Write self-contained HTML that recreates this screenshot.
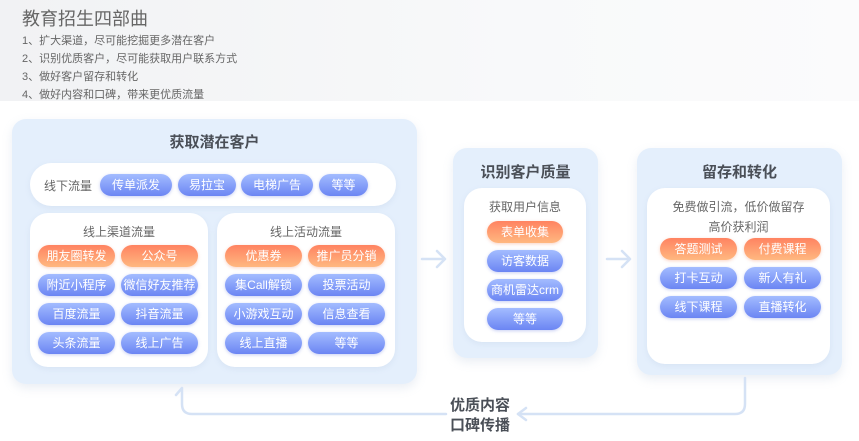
<!DOCTYPE html>
<html><head><meta charset="utf-8"><style>
*{margin:0;padding:0;box-sizing:border-box}
body{width:859px;height:441px;position:relative;overflow:hidden;background:#fff;font-family:"Liberation Sans","Noto Sans CJK SC",sans-serif;color:#555}
.a{position:absolute}
.bg{left:0;top:0;width:859px;height:101px;background:linear-gradient(90deg,#f1f2f4,#f8f9fa 60%,#fbfbfc)}
.big{background:#e4effc;border-radius:14px;box-shadow:0 4px 10px rgba(150,170,200,.2)}
.wh{background:#fff;border-radius:18px;box-shadow:0 2px 6px rgba(150,170,200,.15)}
.t{font-size:15px;font-weight:bold;color:#4a4f57;text-align:center}
.s{font-size:12px;color:#666;text-align:center}
.p{position:absolute;height:22px;border-radius:11px;color:#fff;font-size:12px;line-height:22px;text-align:center;background:linear-gradient(#a3bcff,#6b85f3);box-shadow:0 1px 3px rgba(100,120,220,.35)}
.o{background:linear-gradient(#ff8361,#ffb880);box-shadow:0 1px 3px rgba(240,130,90,.35)}
.l{font-size:11px;color:#666;left:22px}
</style></head><body>
<div class="a bg"></div>
<div class="a" style="left:22px;top:5px;font-size:18px;color:#666">教育招生四部曲</div>
<div class="a l" style="top:32px">1、扩大渠道，尽可能挖掘更多潜在客户</div>
<div class="a l" style="top:50px">2、识别优质客户，尽可能获取用户联系方式</div>
<div class="a l" style="top:68px">3、做好客户留存和转化</div>
<div class="a l" style="top:86px">4、做好内容和口碑，带来更优质流量</div>

<div class="a big" style="left:12px;top:119px;width:405px;height:265px"></div>
<div class="a t" style="left:12px;top:131px;width:405px">获取潜在客户</div>
<div class="a wh" style="left:30px;top:163px;width:366px;height:43px;border-radius:22px"></div>
<div class="a" style="left:44px;top:177px;font-size:12px;color:#666">线下流量</div>
<div class="p" style="left:100px;top:174px;width:72px">传单派发</div>
<div class="p" style="left:178px;top:174px;width:58px">易拉宝</div>
<div class="p" style="left:241px;top:174px;width:72px">电梯广告</div>
<div class="p" style="left:319px;top:174px;width:49px">等等</div>

<div class="a wh" style="left:30px;top:213px;width:178px;height:154px"></div>
<div class="a s" style="left:30px;top:223px;width:178px">线上渠道流量</div>
<div class="p o" style="left:38px;top:245px;width:77px">朋友圈转发</div>
<div class="p o" style="left:121px;top:245px;width:77px">公众号</div>
<div class="p" style="left:38px;top:274px;width:77px">附近小程序</div>
<div class="p" style="left:121px;top:274px;width:77px">微信好友推荐</div>
<div class="p" style="left:38px;top:303px;width:77px">百度流量</div>
<div class="p" style="left:121px;top:303px;width:77px">抖音流量</div>
<div class="p" style="left:38px;top:332px;width:77px">头条流量</div>
<div class="p" style="left:121px;top:332px;width:77px">线上广告</div>

<div class="a wh" style="left:217px;top:213px;width:178px;height:154px"></div>
<div class="a s" style="left:217px;top:223px;width:178px">线上活动流量</div>
<div class="p o" style="left:225px;top:245px;width:77px">优惠券</div>
<div class="p o" style="left:308px;top:245px;width:77px">推广员分销</div>
<div class="p" style="left:225px;top:274px;width:77px">集Call解锁</div>
<div class="p" style="left:308px;top:274px;width:77px">投票活动</div>
<div class="p" style="left:225px;top:303px;width:77px">小游戏互动</div>
<div class="p" style="left:308px;top:303px;width:77px">信息查看</div>
<div class="p" style="left:225px;top:332px;width:77px">线上直播</div>
<div class="p" style="left:308px;top:332px;width:77px">等等</div>

<div class="a big" style="left:453px;top:148px;width:145px;height:210px"></div>
<div class="a t" style="left:453px;top:161px;width:145px">识别客户质量</div>
<div class="a wh" style="left:464px;top:188px;width:122px;height:154px"></div>
<div class="a s" style="left:464px;top:198px;width:122px">获取用户信息</div>
<div class="p o" style="left:487px;top:221px;width:76px">表单收集</div>
<div class="p" style="left:487px;top:250px;width:76px">访客数据</div>
<div class="p" style="left:487px;top:279px;width:76px">商机雷达crm</div>
<div class="p" style="left:487px;top:308px;width:76px">等等</div>

<div class="a big" style="left:637px;top:148px;width:205px;height:227px"></div>
<div class="a t" style="left:637px;top:161px;width:205px">留存和转化</div>
<div class="a wh" style="left:647px;top:188px;width:183px;height:176px"></div>
<div class="a s" style="left:647px;top:198px;width:183px">免费做引流，低价做留存</div>
<div class="a s" style="left:647px;top:218px;width:183px">高价获利润</div>
<div class="p o" style="left:660px;top:238px;width:77px">答题测试</div>
<div class="p o" style="left:744px;top:238px;width:77px">付费课程</div>
<div class="p" style="left:660px;top:267px;width:77px">打卡互动</div>
<div class="p" style="left:744px;top:267px;width:77px">新人有礼</div>
<div class="p" style="left:660px;top:296px;width:77px">线下课程</div>
<div class="p" style="left:744px;top:296px;width:77px">直播转化</div>

<svg class="a" style="left:0;top:0" width="859" height="441">
<g stroke="#d5e2f5" stroke-width="2.5" fill="none" stroke-linecap="round" stroke-linejoin="round">
<path d="M422 259H445M437 251L445 259L437 267"/>
<path d="M607 259H630M622 251L630 259L622 267"/>
<path d="M745 378V404Q745 414 735 414H518"/>
<path d="M518 414L526 408M518 414L526 420"/>
<path d="M446 414H192Q182 414 182 404V388M182 388L176 395"/>
</g></svg>
<div class="a" style="left:450px;top:396px;font-size:15px;font-weight:bold;color:#4a4f57;line-height:20px">优质内容<br>口碑传播</div>
</body></html>
